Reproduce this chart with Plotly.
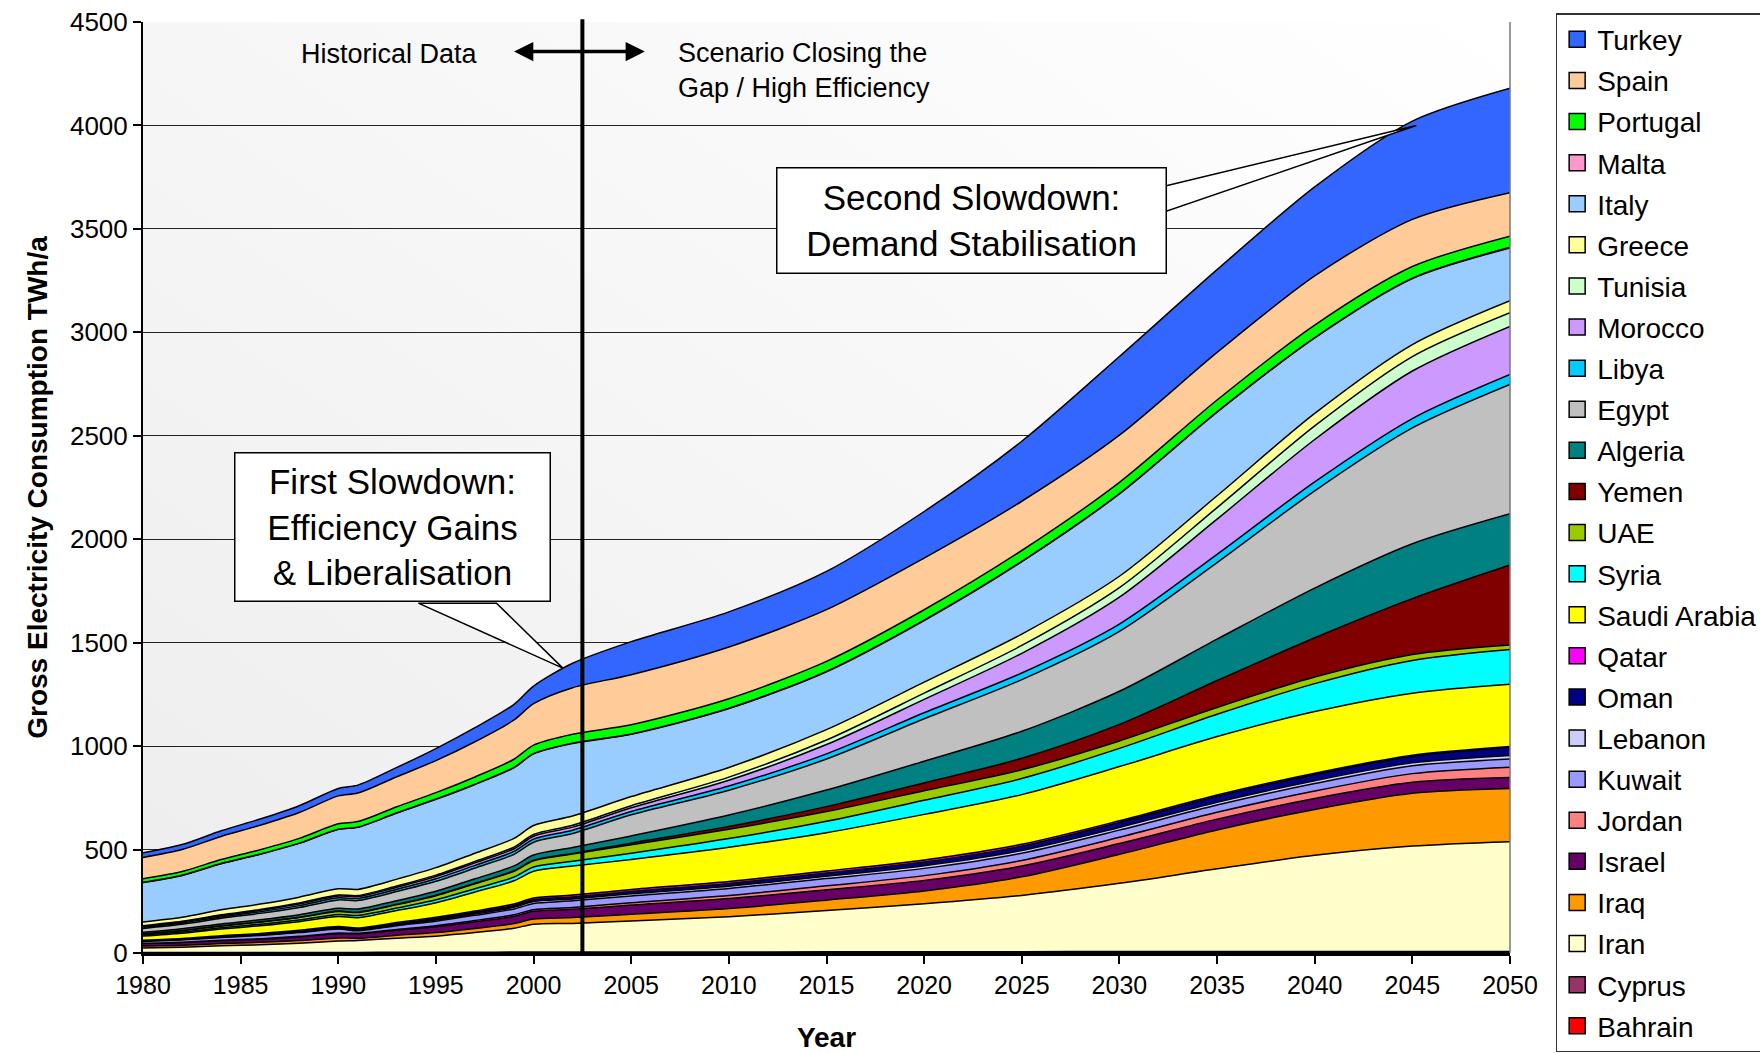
import base64
import plotly.graph_objects as go

## Years (historical part every 1-2 years, scenario every 5 years)
years = [1980, 1982, 1984, 1986, 1988, 1990, 1991, 1993, 1995, 1997, 1999, 2000, 2002,
         2005, 2010, 2015, 2020, 2025, 2030, 2035, 2040, 2045, 2050]

## Gross electricity consumption per country in TWh/a (stack order bottom -> top)
bahrain = [1, 1, 1.5, 1.5, 1.5, 2, 2, 2, 2, 2, 2.5, 2.5, 3, 3, 3, 3, 3.5, 3.5, 4, 4, 4, 4, 4]
cyprus = [1, 1, 1, 1, 1, 1, 1, 1.5, 1.5, 1.5, 2, 2, 2, 2, 2, 2.5, 2.5, 3, 3, 3, 3, 3, 3]
iran = [22, 26, 32, 37, 45, 55, 58, 68, 78, 95, 115, 135, 138, 150, 170, 200, 232, 272, 330, 400, 465, 510, 531]
iraq = [10, 10, 11, 12, 13, 15, 10, 14, 17, 20, 23, 25, 28, 32, 40, 50, 62, 90, 140, 188, 222, 255, 257]
israel = [12, 13, 14, 15, 17, 20, 21, 24, 28, 32, 35, 37, 40, 45, 48, 50, 51, 52, 52, 52, 53, 53, 53]
jordan = [1, 1.5, 2, 2.5, 3, 3.5, 3.5, 4.5, 5.5, 6.5, 7.5, 8, 9, 11, 15, 19, 23, 27, 30, 33, 36, 42, 50]
kuwait = [9, 11, 14, 16, 18, 19, 12, 18, 22, 25, 28, 30, 32, 33, 34, 35, 35, 35, 35, 35, 36, 38, 40]
lebanon = [2, 2, 2, 2, 3, 3, 3, 4, 6, 7, 8, 9, 9, 10, 11, 12, 13, 13, 13, 14, 14, 14, 17]
oman = [1, 1.5, 2, 3, 4, 5, 5, 6, 7, 8, 9, 9, 10, 11, 13, 15, 18, 21, 24, 28, 30, 32, 38]
qatar = [3, 3, 4, 4, 4, 5, 5, 5, 6, 6, 7, 8, 9, 10, 10, 10, 10, 9, 8, 7, 6, 5, 5]
saudi_arabia = [20, 26, 32, 38, 42, 48, 50, 58, 70, 92, 112, 130, 140, 145, 165, 185, 220, 240, 262, 282, 298, 300, 301]
syria = [4, 5, 6, 7, 8, 10, 11, 12, 14, 16, 18, 20, 23, 30, 42, 55, 68, 78, 88, 108, 135, 158, 168]
uae = [6, 7, 9, 10, 12, 14, 14, 17, 20, 24, 28, 30, 35, 41, 45, 47, 46, 42, 36, 33, 32, 29, 22]
yemen = [1, 1, 1, 1.5, 1.5, 2, 2, 2, 2.5, 2.5, 3, 3, 3.5, 8, 14, 24, 38, 56, 80, 130, 190, 270, 386]
algeria = [7, 8, 9, 10, 12, 14, 15, 17, 19, 21, 23, 25, 28, 35, 55, 80, 105, 130, 160, 200, 240, 265, 248]
egypt = [19, 22, 27, 31, 35, 40, 41, 44, 48, 52, 56, 62, 68, 102, 120, 150, 205, 250, 290, 370, 470, 560, 625]
libya = [5, 6, 7, 8, 9, 10, 10, 11, 12, 13, 14, 15, 16, 16, 20, 25, 29, 32, 35, 40, 43, 45, 48]
morocco = [5, 5, 6, 7, 8, 9, 9, 10, 11, 12, 13, 14, 15, 18, 28, 45, 65, 95, 130, 170, 205, 230, 233]
tunisia = [3, 3, 4, 4, 5, 5, 5, 6, 7, 7, 8, 8, 9, 10, 15, 22, 30, 38, 46, 56, 66, 70, 66]
greece = [18, 20, 24, 26, 28, 30, 30, 33, 36, 40, 42, 44, 45, 44, 47, 50, 53, 55, 55, 57, 60, 58, 58]
italy = [191, 202, 223, 241, 260, 287, 300, 320, 330, 332, 342, 346, 350, 301, 284, 280, 298, 350, 398, 404, 365, 319, 255]
malta = [1, 1, 1, 1, 1, 1, 1, 1, 1.5, 1.5, 1.5, 1.5, 2, 2, 2, 2, 2, 2, 2, 2, 2, 2, 3]
portugal = [17, 18, 19, 21, 23, 26, 27, 29, 31, 35, 39, 41, 43, 44, 46, 48, 50, 52, 54, 57, 60, 56, 54]
spain = [103, 106, 112, 118, 125, 135, 138, 145, 155, 170, 190, 200, 225, 242, 250, 250, 250, 238, 228, 230, 238, 228, 210]
turkey = [22, 24, 27, 30, 33, 36, 38, 45, 58, 68, 75, 85, 118, 160, 170, 185, 225, 290, 380, 400, 430, 475, 505]

## Names, values and Excel-style colours, bottom of the stack first
series = [
    ("Bahrain", bahrain, "#FF0000"),
    ("Cyprus", cyprus, "#993366"),
    ("Iran", iran, "#FFFFCC"),
    ("Iraq", iraq, "#FF9900"),
    ("Israel", israel, "#660066"),
    ("Jordan", jordan, "#FF8080"),
    ("Kuwait", kuwait, "#9999FF"),
    ("Lebanon", lebanon, "#CCCCFF"),
    ("Oman", oman, "#000080"),
    ("Qatar", qatar, "#FF00FF"),
    ("Saudi Arabia", saudi_arabia, "#FFFF00"),
    ("Syria", syria, "#00FFFF"),
    ("UAE", uae, "#99CC00"),
    ("Yemen", yemen, "#800000"),
    ("Algeria", algeria, "#008080"),
    ("Egypt", egypt, "#C0C0C0"),
    ("Libya", libya, "#00CCFF"),
    ("Morocco", morocco, "#CC99FF"),
    ("Tunisia", tunisia, "#CCFFCC"),
    ("Greece", greece, "#FFFF99"),
    ("Italy", italy, "#99CCFF"),
    ("Malta", malta, "#FF99CC"),
    ("Portugal", portugal, "#00FF00"),
    ("Spain", spain, "#FFCC99"),
    ("Turkey", turkey, "#3366FF"),
]

FONT = "Arial, Liberation Sans, sans-serif"

## Soft diagonal grey gradient for the plot area
gradient_svg = ("<svg xmlns='http://www.w3.org/2000/svg' width='100' height='100'>"
                "<defs><linearGradient id='g' x1='0' y1='1' x2='1' y2='0'>"
                "<stop offset='0' stop-color='#ededed'/><stop offset='1' stop-color='#ffffff'/>"
                "</linearGradient></defs><rect width='100' height='100' fill='url(#g)'/></svg>")
gradient_src = "data:image/svg+xml;base64," + base64.b64encode(gradient_svg.encode()).decode()

fig = go.Figure()

## Stacked areas with black outlines
for name, values, color in series:
    fig.add_trace(go.Scatter(x=years, y=values, name=name, stackgroup="one",
                             mode="lines", fillcolor=color,
                             line=dict(color="black", width=1.5, shape="spline", smoothing=0.8),
                             showlegend=False, hoverinfo="x+y+name"))

## Legend entries as square swatches, Turkey on top
for name, values, color in reversed(series):
    fig.add_trace(go.Scatter(x=[None], y=[None], mode="markers", name=name, legendgroup=name,
                             marker=dict(symbol="square", size=16, color=color,
                                         line=dict(color="black", width=1.5))))

## Border between historical data and scenario
fig.add_shape(type="line", xref="x", yref="paper", x0=2002.5, x1=2002.5, y0=0, y1=1.003,
              line=dict(color="black", width=4))

## Right border of the plot area
fig.add_shape(type="line", xref="paper", yref="paper", x0=1, x1=1, y0=0, y1=1,
              line=dict(color="#777777", width=1.5))

## Callout tails
fig.add_shape(type="path", xref="x", yref="y",
              path="M 2032.4 3709 L 2045.2 4000 L 2032.4 3585 Z",
              fillcolor="white", line=dict(color="black", width=1.5))
fig.add_shape(type="path", xref="x", yref="y",
              path="M 1994.1 1691 L 2001.5 1377 L 1998.1 1691 Z",
              fillcolor="white", line=dict(color="black", width=1.5))

## Callout boxes
fig.add_annotation(x=2022.4, y=3542, xref="x", yref="y", showarrow=False,
                   text="Second Slowdown:<br>Demand Stabilisation",
                   font=dict(family=FONT, size=35, color="black"),
                   bgcolor="white", bordercolor="black", borderwidth=1.5,
                   width=386, height=102, borderpad=1)
fig.add_annotation(x=1992.8, y=2058, xref="x", yref="y", showarrow=False,
                   text="First Slowdown:<br>Efficiency Gains<br>& Liberalisation",
                   font=dict(family=FONT, size=35, color="black"),
                   bgcolor="white", bordercolor="black", borderwidth=1.5,
                   width=312, height=145, borderpad=1)

## Historical / scenario labels with the double arrow
fig.add_annotation(x=1992.6, y=4346, xref="x", yref="y", showarrow=False,
                   text="Historical Data", font=dict(family=FONT, size=27, color="black"))
fig.add_annotation(x=2007.3, y=4265, xref="x", yref="y", showarrow=False, xanchor="left",
                   align="left", text="Scenario Closing the<br>Gap / High Efficiency",
                   font=dict(family=FONT, size=27, color="black"))
for tip in [1999.0, 2005.7]:
    fig.add_annotation(x=tip, y=4357, ax=2002.5, ay=4357, xref="x", yref="y",
                       axref="x", ayref="y", text="", showarrow=True,
                       arrowhead=2, arrowsize=1.1, arrowwidth=3.5, arrowcolor="black")

fig.update_layout(
    width=1760, height=1053,
    margin=dict(l=143, r=250, t=22, b=100, autoexpand=False),
    paper_bgcolor="white", plot_bgcolor="#f5f5f5",
    font=dict(family=FONT, size=25, color="black"),
    images=[dict(source=gradient_src, xref="paper", yref="paper", x=0, y=1,
                 sizex=1, sizey=1, sizing="stretch", layer="below")],
    showlegend=True,
    legend=dict(x=1.0334, y=1.0095, xanchor="left", yanchor="top",
                traceorder="grouped", tracegroupgap=1.7, maxheight=1050,
                bgcolor="white", bordercolor="#333333", borderwidth=1.5,
                font=dict(family=FONT, size=28, color="black"),
                itemwidth=30),
    xaxis=dict(range=[1980, 2050], tickmode="linear", tick0=1980, dtick=5,
               showgrid=False, zeroline=False, showline=True, linecolor="black", linewidth=3,
               ticks="outside", ticklen=8, tickwidth=1.5, tickcolor="black",
               tickfont=dict(size=25),
               title=dict(text="<b>Year</b>", font=dict(size=28), standoff=38)),
    yaxis=dict(range=[0, 4500], tickmode="linear", tick0=0, dtick=500,
               showgrid=True, gridcolor="#222222", gridwidth=1, zeroline=False,
               showline=True, linecolor="black", linewidth=2,
               ticks="outside", ticklen=8, tickwidth=1.5, tickcolor="black",
               tickfont=dict(size=26),
               title=dict(text="<b>Gross Electricity Consumption TWh/a</b>",
                          font=dict(size=28), standoff=14)),
)

fig.write_html("out.html", config={"displayModeBar": False},
               post_script="document.body.style.margin='0px';")
